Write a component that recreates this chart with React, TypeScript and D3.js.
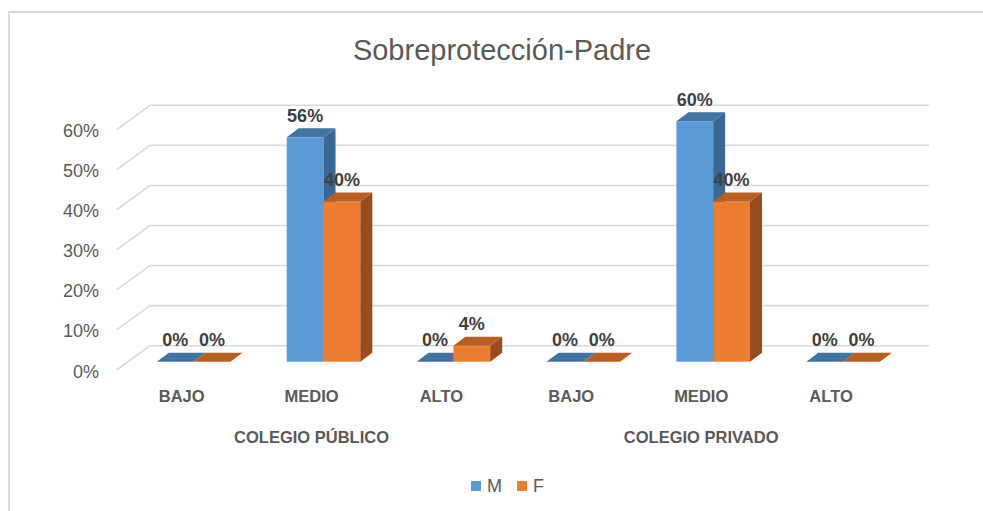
import React from "react";
import * as d3 from "d3";

// chart values
const categories = ["BAJO", "MEDIO", "ALTO", "BAJO", "MEDIO", "ALTO"];
const groups = ["COLEGIO PÚBLICO", "COLEGIO PRIVADO"];
const seriesNames = ["M", "F"];
const mValues = [0, 56, 0, 0, 60, 0];
const fValues = [0, 40, 4, 0, 40, 0];
const yTicks = [0, 10, 20, 30, 40, 50, 60];

const W = 983;
const H = 511;
const FONT = "'Liberation Sans', Arial, sans-serif";

// oblique depth offsets (front plane of bars -> other planes)
const depth = { x: 12, y: -9 }; // bar thickness
const wall = { x: 21.3, y: -16 }; // back wall
const floorFront = { x: -12, y: 8.3 }; // front edge of floor

const colors = {
    M: { front: "#5B9BD5", top: "#4374A1", side: "#3A6793" },
    F: { front: "#ED7D31", top: "#B95E21", side: "#984B1C" },
};

export default function App() {
    const x0 = d3.scaleBand<number>()
        .domain(d3.range(categories.length))
        .range([128.7, 908]);
    const x1 = d3.scaleBand<string>()
        .domain(seriesNames)
        .range([0, x0.bandwidth()])
        .paddingOuter(0.765);
    const y = d3.scaleLinear().domain([0, 60]).range([361.7, 121.3]);
    const y0 = y(0);

    const series = [
        { name: "M", values: mValues },
        { name: "F", values: fValues },
    ];

    const pts = (p: number[][]) => p.map((d) => d.join(",")).join(" ");

    const xLeft = x0.range()[0];
    const xRight = x0.range()[1];

    return (
        <svg width={W} height={H} style={{ position: "absolute", left: 0, top: 0, background: "#fff" }}>
            <rect x={9} y={12} width={W + 20} height={H + 20} fill="#fff" stroke="#d9d9d9" strokeWidth={2} />
            <text x={502} y={60} textAnchor="middle" fontFamily={FONT} fontSize={29} fill="#595959">
                Sobreprotección-Padre
            </text>

            {/* gridlines on wall and side */}
            <g stroke="#d9d9d9" strokeWidth={1.6} fill="none">
                {yTicks.map((t) => {
                    const yw = y(t) + wall.y;
                    const xw = xLeft + wall.x;
                    return (
                        <g key={t}>
                            <line x1={xw} x2={xRight + wall.x} y1={yw} y2={yw} />
                            <line x1={xw} y1={yw} x2={xLeft + floorFront.x} y2={y(t) + floorFront.y} />
                        </g>
                    );
                })}
            </g>
            <g fontFamily={FONT} fontSize={18} fill="#595959" textAnchor="end">
                {yTicks.map((t) => (
                    <text key={t} x={99} y={y(t) + floorFront.y + 1.5} dominantBaseline="central">
                        {t + "%"}
                    </text>
                ))}
            </g>

            {/* bars */}
            {categories.map((c, i) => (
                <g key={i}>
                    {series.map((s) => {
                        const col = colors[s.name as "M" | "F"];
                        const x = (x0(i) as number) + (x1(s.name) as number);
                        const w = x1.bandwidth();
                        const yt = y(s.values[i]);
                        return (
                            <g key={s.name}>
                                {yt < y0 && (
                                    <rect x={x} y={yt} width={w} height={y0 - yt} fill={col.front} />
                                )}
                                <polygon
                                    fill={col.side}
                                    points={pts([
                                        [x + w, yt],
                                        [x + w + depth.x, yt + depth.y],
                                        [x + w + depth.x, y0 + depth.y],
                                        [x + w, y0],
                                    ])}
                                />
                                <polygon
                                    fill={col.top}
                                    points={pts([
                                        [x, yt],
                                        [x + w, yt],
                                        [x + w + depth.x, yt + depth.y],
                                        [x + depth.x, yt + depth.y],
                                    ])}
                                />
                            </g>
                        );
                    })}
                </g>
            ))}

            {/* data labels */}
            <g fontFamily={FONT} fontSize={18} fontWeight="bold" fill="#404040" textAnchor="middle">
                {categories.map((c, i) =>
                    series.map((s) => {
                        const x = (x0(i) as number) + (x1(s.name) as number) + x1.bandwidth() / 2;
                        return (
                            <text key={i + s.name} x={x} y={y(s.values[i]) - 15.5}>
                                {s.values[i] + "%"}
                            </text>
                        );
                    })
                )}
            </g>

            {/* category and group labels */}
            <g fontFamily={FONT} fontSize={16.5} fontWeight="bold" fill="#595959" textAnchor="middle">
                {categories.map((c, i) => (
                    <text key={i} x={(x0(i) as number) + x0.bandwidth() / 2 + floorFront.x} y={402}>
                        {c}
                    </text>
                ))}
                {groups.map((g, gi) => (
                    <text key={g} x={(x0(gi * 3) as number) + x0.bandwidth() * 1.5 + floorFront.x} y={443}>
                        {g}
                    </text>
                ))}
            </g>

            {/* legend */}
            <g fontFamily={FONT} fontSize={18} fill="#595959">
                <rect x={471} y={481} width={10} height={10} fill={colors.M.front} />
                <text x={487} y={486} dominantBaseline="central">M</text>
                <rect x={517} y={481} width={10} height={10} fill={colors.F.front} />
                <text x={533} y={486} dominantBaseline="central">F</text>
            </g>
        </svg>
    );
}
